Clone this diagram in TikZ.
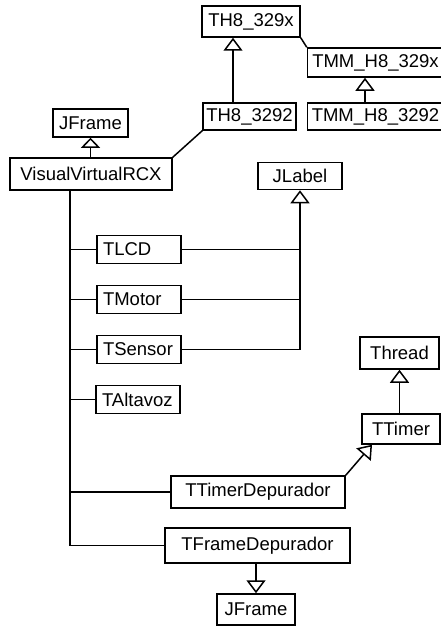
\documentclass[tikz,border=0pt]{standalone}
\usepackage{fontspec}
\setmainfont{Liberation Sans}
\usetikzlibrary{arrows.meta,positioning,calc}

\begin{document}
\begin{tikzpicture}[
  x=1pt, y=-1pt,
  line width=1.5pt,
  umlclass/.style={rectangle, draw=black, inner sep=0pt, font=\fontsize{18.5}{20}\selectfont},
  fixbox/.style={umlclass, text width=72pt, align=left, inner xsep=6pt, minimum height=28pt},
  inherit/.style={-{Triangle[open,length=13pt,width=19pt]}, draw=black},
  inheritshort/.style={-{Triangle[open,length=10pt,width=19pt]}, draw=black},
  assoc/.style={draw=black}
]
  \useasboundingbox[fill=white] (0,0) rectangle (440,626);

  % top hierarchy
  \node[umlclass, minimum width=98pt, minimum height=31pt] (th8x) at (251,21.5) {TH8\_329x};
  \node[umlclass, minimum width=136pt, minimum height=29pt] (tmmx) at (375.5,62.5) {TMM\_H8\_329x};
  \node[umlclass, minimum width=93pt, minimum height=27pt] (th8) at (249.5,116.5) {TH8\_3292};
  \node[umlclass, minimum width=136pt, minimum height=27pt] (tmm) at (375.5,116.5) {TMM\_H8\_3292};
  \node[umlclass, minimum width=75pt, minimum height=28pt] (jframe) at (90.5,123) {JFrame};
  \node[umlclass, minimum width=162pt, minimum height=32pt] (vrcx) at (91,174) {VisualVirtualRCX};
  \node[umlclass, minimum width=84pt, minimum height=27pt] (jlabel) at (300,176) {JLabel};

  % members
  \node[fixbox] (tlcd) at (139,249.5) {TLCD};
  \node[fixbox] (tmotor) at (139,299.5) {TMotor};
  \node[fixbox] (tsensor) at (139,349.5) {TSensor};
  \node[fixbox] (taltavoz) at (138,399.5) {TAltavoz};
  \node[umlclass, minimum width=79pt, minimum height=32pt] (thread) at (399.5,353) {Thread};
  \node[umlclass, minimum width=78pt, minimum height=30pt] (ttimer) at (401,429) {TTimer};
  \node[umlclass, minimum width=174pt, minimum height=32pt] (ttdep) at (258,492) {TTimerDepurador};
  \node[umlclass, minimum width=185pt, minimum height=35pt] (tfdep) at (257.5,545.5) {TFrameDepurador};
  \node[umlclass, minimum width=78pt, minimum height=31pt] (jframe2) at (256,609.5) {JFrame};

  \coordinate (a1) at ([xshift=-16.5pt]th8.north);
  \coordinate (a2) at ([xshift=-10.5pt]tmm.north);
  \coordinate (trunk) at ([xshift=-21pt]vrcx.south);

  \draw[inherit] (a1) -- (a1 |- th8x.south);
  \draw[inherit] (a2) -- (a2 |- tmmx.south);
  \draw[assoc] (th8x.south east) -- (tmmx.north west);
  \draw[assoc] (th8.south west) -- (vrcx.north east);
  \draw[inheritshort] (vrcx.north -| jframe.south) -- (jframe.south);

  \draw[assoc] (trunk) |- (tfdep.west);
  \foreach \c in {tlcd,tmotor,tsensor,taltavoz,ttdep}
    \draw[assoc] (trunk |- \c.west) -- (\c.west);

  \draw[inherit] (tsensor.east) -| (jlabel.south);
  \foreach \c in {tlcd,tmotor}
    \draw[assoc] (\c.east) -- (\c.east -| jlabel.south);

  \draw[inherit] (ttimer.north -| thread.south) -- (thread.south);
  \draw[inherit] (ttdep.north east) -- ([xshift=-29pt]ttimer.south);
  \draw[inherit] (tfdep.south -| jframe2.north) -- (jframe2.north);
\end{tikzpicture}
\end{document}
